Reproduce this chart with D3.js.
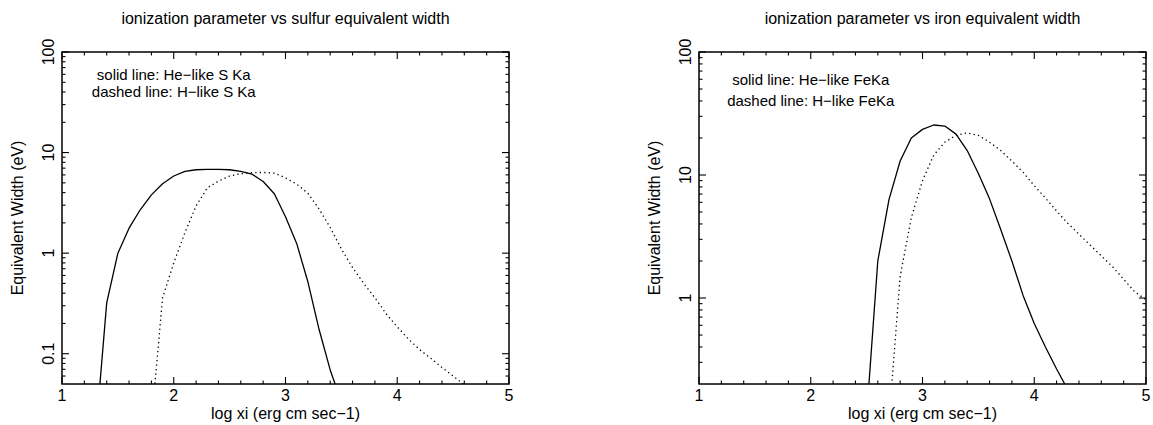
<!DOCTYPE html>
<html>
<head>
<meta charset="utf-8">
<script src="https://cdn.jsdelivr.net/npm/d3@7/dist/d3.min.js"></script>
<style>
  html, body { margin: 0; padding: 0; background: #fff; }
  svg { display: block; }
  text { font-family: "Liberation Sans", Arial, Helvetica, sans-serif; fill: #000; }
</style>
</head>
<body>
<svg id="chart" width="1153" height="425"></svg>
<script>
// log xi grid and equivalent widths (eV), sulfur lines
const sulfurHeLogXi = [1.3, 1.4, 1.5, 1.6, 1.7, 1.8, 1.9, 2.0, 2.1, 2.2, 2.3, 2.4, 2.5, 2.6, 2.7, 2.8, 2.9, 3.0, 3.1, 3.2, 3.3, 3.4, 3.5];
const sulfurHeEW    = [0.015, 0.32, 1.0, 1.77, 2.7, 3.8, 4.9, 5.85, 6.5, 6.75, 6.8, 6.8, 6.75, 6.5, 6.1, 5.15, 3.9, 2.3, 1.25, 0.52, 0.175, 0.069, 0.033];
const sulfurHLogXi  = [1.8, 1.9, 2.0, 2.1, 2.2, 2.3, 2.4, 2.5, 2.6, 2.7, 2.8, 2.9, 3.0, 3.1, 3.2, 3.3, 3.4, 3.5, 3.6, 3.7, 3.8, 3.9, 4.0, 4.1, 4.2, 4.3, 4.4, 4.5, 4.6];
const sulfurHEW     = [0.02, 0.36, 0.8, 1.6, 2.95, 4.45, 5.2, 5.85, 6.15, 6.3, 6.35, 6.25, 5.6, 4.85, 3.95, 2.75, 1.8, 1.1, 0.72, 0.5, 0.36, 0.25, 0.185, 0.14, 0.11, 0.09, 0.073, 0.06, 0.049];

// iron lines
const ironHeLogXi = [2.5, 2.6, 2.7, 2.8, 2.9, 3.0, 3.1, 3.2, 3.3, 3.4, 3.5, 3.6, 3.7, 3.8, 3.9, 4.0, 4.1, 4.2, 4.3];
const ironHeEW    = [0.11, 2.0, 6.3, 13, 20, 23.5, 25.5, 25, 21.5, 15.8, 10.3, 6.4, 3.6, 2.0, 1.05, 0.62, 0.40, 0.265, 0.18];
const ironHLogXi  = [2.7, 2.8, 2.9, 3.0, 3.1, 3.2, 3.3, 3.4, 3.5, 3.6, 3.7, 3.8, 3.9, 4.0, 4.1, 4.2, 4.3, 4.4, 4.5, 4.6, 4.7, 4.8, 4.9, 5.0];
const ironHEW     = [0.1, 1.5, 4.5, 9.0, 14.5, 18.5, 21, 22, 21, 18.5, 15.8, 13, 10.5, 8.2, 6.5, 5.1, 4.05, 3.3, 2.7, 2.2, 1.8, 1.42, 1.12, 0.97];

// axis ticks
const xMajorTicks = [1, 2, 3, 4, 5];
const sulfurYLabels = [0.1, 1, 10, 100];
const ironYLabels = [1, 10, 100];

const panels = [
  {
    id: "s",
    title: "ionization parameter vs sulfur equivalent width",
    legend: ["solid line: He\u2212like S Ka", "dashed line: H\u2212like S Ka"],
    legendAt: [[2, 53], [2, 35.5]],
    yDomain: [0.05, 100],
    yLabels: sulfurYLabels,
    series: [
      { x: sulfurHeLogXi, y: sulfurHeEW, dotted: false },
      { x: sulfurHLogXi, y: sulfurHEW, dotted: true }
    ],
    left: 62, top: 52, width: 447, height: 332
  },
  {
    id: "fe",
    title: "ionization parameter vs iron equivalent width",
    legend: ["solid line: He\u2212like FeKa", "dashed line: H\u2212like FeKa"],
    legendAt: [[2, 54], [2, 36.5]],
    yDomain: [0.2, 100],
    yLabels: ironYLabels,
    series: [
      { x: ironHeLogXi, y: ironHeEW, dotted: false },
      { x: ironHLogXi, y: ironHEW, dotted: true }
    ],
    left: 699, top: 52, width: 447, height: 332
  }
];

const svg = d3.select("#chart");

panels.forEach(p => {
  const g = svg.append("g").attr("transform", `translate(${p.left},${p.top})`);
  const x = d3.scaleLinear().domain([1, 5]).range([0, p.width]);
  const y = d3.scaleLog().domain(p.yDomain).range([p.height, 0]);

  g.append("defs").append("clipPath").attr("id", "clip-" + p.id)
    .append("rect").attr("width", p.width).attr("height", p.height);

  // minor x ticks every 0.2
  const xMinor = d3.range(1, 5.0001, 0.2).filter(v => Math.abs(v - Math.round(v)) > 1e-6);
  // log minor ticks 2..9 within domain
  const yMinor = [];
  for (let dec = -2; dec <= 2; dec++) {
    for (let m = 2; m <= 9; m++) {
      const v = m * Math.pow(10, dec);
      if (v > p.yDomain[0] && v < p.yDomain[1]) yMinor.push(v);
    }
  }
  const yMajor = [0.01, 0.1, 1, 10, 100].filter(v => v >= p.yDomain[0] && v <= p.yDomain[1]);

  const MAJ = 7, MIN = 3.5;
  const tickG = g.append("g").attr("stroke", "#000").attr("stroke-width", 1.1);
  // bottom & top
  xMajorTicks.concat(xMinor).forEach(v => {
    const len = xMajorTicks.includes(v) ? MAJ : MIN;
    const px = x(v);
    tickG.append("line").attr("x1", px).attr("x2", px).attr("y1", p.height).attr("y2", p.height - len);
    tickG.append("line").attr("x1", px).attr("x2", px).attr("y1", 0).attr("y2", len);
  });
  // left & right
  yMajor.concat(yMinor).forEach(v => {
    const len = yMajor.includes(v) ? MAJ : MIN;
    const py = y(v);
    tickG.append("line").attr("x1", 0).attr("x2", len).attr("y1", py).attr("y2", py);
    tickG.append("line").attr("x1", p.width).attr("x2", p.width - len).attr("y1", py).attr("y2", py);
  });

  // curves
  const line = d3.line().x(d => x(d[0])).y(d => y(d[1]));
  const curveG = g.append("g").attr("clip-path", `url(#clip-${p.id})`);
  p.series.forEach(s => {
    const pts = s.x.map((v, i) => [v, s.y[i]]);
    curveG.append("path").datum(pts)
      .attr("d", line)
      .attr("fill", "none")
      .attr("stroke", "#000")
      .attr("stroke-width", 1.3)
      .attr("stroke-dasharray", s.dotted ? "1.3,3.2" : null)
      .attr("stroke-linejoin", "round");
  });

  // frame
  g.append("rect").attr("width", p.width).attr("height", p.height)
    .attr("fill", "none").attr("stroke", "#000").attr("stroke-width", 1.5);

  // x tick labels
  g.append("g").selectAll("text").data(xMajorTicks).join("text")
    .attr("x", d => x(d)).attr("y", p.height + 17)
    .attr("text-anchor", "middle").attr("font-size", 16)
    .text(d => d);

  // y tick labels (rotated)
  g.append("g").selectAll("text").data(p.yLabels).join("text")
    .attr("transform", d => `translate(-8.5,${y(d)}) rotate(-90)`)
    .attr("text-anchor", "middle").attr("font-size", 16)
    .text(d => d);

  // axis titles
  g.append("text").attr("x", p.width / 2).attr("y", p.height + 35)
    .attr("text-anchor", "middle").attr("font-size", 16)
    .text("log xi (erg cm sec\u22121)");
  g.append("text").attr("transform", `translate(-39.5,${p.height / 2}) rotate(-90)`)
    .attr("text-anchor", "middle").attr("font-size", 16)
    .text("Equivalent Width (eV)");

  // title
  g.append("text").attr("x", p.width / 2).attr("y", -28)
    .attr("text-anchor", "middle").attr("font-size", 16)
    .text(p.title);

  // legend text
  p.legend.forEach((t, i) => {
    g.append("text").attr("x", x(p.legendAt[i][0])).attr("y", y(p.legendAt[i][1]))
      .attr("text-anchor", "middle").attr("font-size", 15)
      .text(t);
  });
});
</script>
</body>
</html>
